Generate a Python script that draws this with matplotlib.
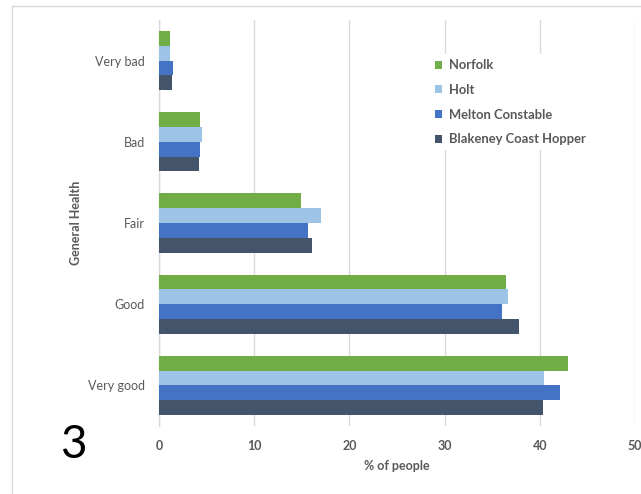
import matplotlib
matplotlib.use("Agg")
import matplotlib.pyplot as plt
from matplotlib.patches import Rectangle
import numpy as np

plt.rcParams['font.family'] = ['Lato', 'DejaVu Sans']

categories = ["Very good", "Good", "Fair", "Bad", "Very bad"]
series_names = ["Norfolk", "Holt", "Melton Constable", "Blakeney Coast Hopper"]
norfolk = [43.0, 36.4, 14.9, 4.3, 1.2]
holt = [40.4, 36.7, 17.0, 4.5, 1.2]
melton = [42.1, 36.0, 15.7, 4.35, 1.45]
blakeney = [40.3, 37.8, 16.05, 4.2, 1.35]
colors = ["#70AD47", "#9DC3E6", "#4472C4", "#44546A"]
xticks = [0, 10, 20, 30, 40, 50]

W, H = 641, 494
fig = plt.figure(figsize=(W / 100, H / 100), dpi=100)
fig.patch.set_facecolor("white")

# outer light border (chart frame)
fig.patches.append(Rectangle((12 / W, -0.1), 1.2, 1.1 - 6 / H,
                             transform=fig.transFigure, fill=False,
                             edgecolor="#D9D9D9", linewidth=1.0, zorder=0))

ax = fig.add_axes([159 / W, 1 - 426 / H, (635 - 159) / W, (426 - 20) / H])

y = np.arange(len(categories))
bh = 0.182
data = [norfolk, holt, melton, blakeney]
offsets = [1.5, 0.5, -0.5, -1.5]
for vals, name, col, off in zip(data, series_names, colors, offsets):
    ax.barh(y + off * bh, vals, height=bh, color=col, label=name, zorder=3,
            edgecolor="none")

ax.set_xlim(0, 50)
ax.set_ylim(-0.5, len(categories) - 0.5)
ax.set_xticks(xticks)
ax.set_xticklabels([str(t) for t in xticks], fontweight="bold")
ax.set_yticks(y)
ax.set_yticklabels(categories)
ax.tick_params(axis="x", length=0, pad=10, labelsize=9, colors="#595959")
ax.tick_params(axis="y", length=0, pad=10, labelsize=9, colors="#595959")

ax.grid(axis="x", color="#D9D9D9", linewidth=1.0, zorder=0)
for s in ["top", "right", "bottom"]:
    ax.spines[s].set_visible(False)
ax.spines["left"].set_color("#D9D9D9")
ax.spines["left"].set_linewidth(1.0)

ax.set_xlabel("% of people", fontsize=9, fontweight="bold", color="#595959",
              labelpad=6)
ax.set_ylabel("General Health", fontsize=9, fontweight="bold", color="#595959")
ax.yaxis.set_label_coords((82 - 159) / (635 - 159), 0.5)

leg = ax.legend(loc="upper left", bbox_to_anchor=((430 - 159) / (635 - 159),
                                                  1 - (54 - 20) / (426 - 20)),
                frameon=True, facecolor="white", edgecolor="none", framealpha=1,
                handlelength=0.55, handleheight=0.55,
                handletextpad=0.5, labelspacing=0.97, borderaxespad=0,
                prop={"weight": "bold", "size": 9.4})
leg.get_frame().set_boxstyle("square", pad=0)
for t in leg.get_texts():
    t.set_color("#595959")
leg.set_zorder(5)

fig.text(73 / W, 1 - 445 / H, "3", fontsize=33, color="black",
         ha="center", va="center")

fig.savefig("out.png", dpi=100)
